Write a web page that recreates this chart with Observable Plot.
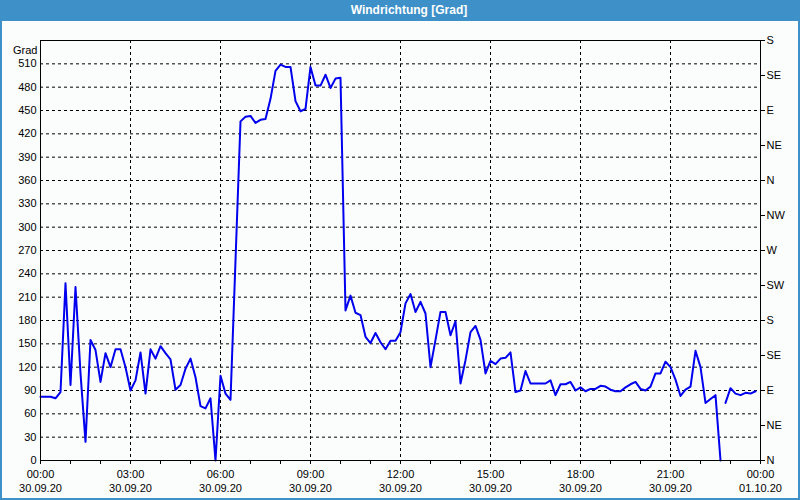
<!DOCTYPE html>
<html>
<head>
<meta charset="utf-8">
<script src="https://cdn.jsdelivr.net/npm/d3@7"></script>
<script src="https://cdn.jsdelivr.net/npm/@observablehq/plot@0.6"></script>
<style>
  html, body { margin: 0; padding: 0; background: #ffffff; }
  #outer { position: absolute; left: 0; top: 0; width: 800px; height: 500px; background: #3d90c8; }
  #title { position: absolute; left: 0; top: 0; width: 800px; height: 21px; line-height: 21px;
           color: #ffffff; font-family: "Liberation Sans", Arial, sans-serif; font-weight: bold;
           font-size: 12px; text-align: center; box-sizing: border-box; padding-left: 18px; }
  #chart { position: absolute; left: 2px; top: 21px; width: 796px; height: 477px; background: #fbfdfd; }
  #chart svg { display: block; }
</style>
</head>
<body>
<div id="outer">
  <div id="title">Windrichtung [Grad]</div>
  <div id="chart"></div>
</div>
<script>
// Wind direction in degrees, one reading every 10 minutes from 30.09.20 00:00
const stepMinutes = 10;
const values = [
  82, 82, 82, 80, 88, 228, 97, 223, 112, 24,
  155, 142, 101, 138, 120, 143, 143, 120, 90, 103,
  139, 86, 143, 131, 147, 138, 130, 91, 97, 118,
  131, 107, 70, 67, 80, 0, 109, 86, 78, 257,
  436, 442, 443, 434, 438, 439, 465, 501, 509, 506,
  506, 462, 449, 452, 506, 482, 482, 496, 479, 491,
  492, 193, 212, 190, 187, 159, 151, 164, 152, 143,
  154, 154, 165, 202, 214, 191, 204, 189, 120, 155,
  191, 191, 161, 179, 99, 129, 165, 173, 155, 112,
  128, 124, 131, 132, 139, 88, 90, 115, 99, 99,
  99, 99, 103, 84, 98, 98, 101, 90, 94, 89,
  92, 92, 96, 95, 91, 89, 89, 94, 98, 101,
  92, 90, 95, 112, 112, 127, 120, 104, 83, 91,
  95, 141, 120, 74, 79, 84, 0, 74, 93, 86,
  84, 87, 86, 89
];
// index after which the recorded line is interrupted
const breakAfter = [136];

const leftTicks = [0, 30, 60, 90, 120, 150, 180, 210, 240, 270, 300, 330, 360, 390, 420, 450, 480, 510];
const dirTicks = [0, 45, 90, 135, 180, 225, 270, 315, 360, 405, 450, 495, 540];
const dirLabels = ["N", "NE", "E", "SE", "S", "SW", "W", "NW", "N", "NE", "E", "SE", "S"];
const yLabel = "Grad";

const start = new Date(Date.UTC(2020, 8, 30, 0, 0));
const end = new Date(Date.UTC(2020, 9, 1, 0, 0));

const rows = [];
values.forEach((v, i) => {
  rows.push({ t: new Date(start.getTime() + i * stepMinutes * 60000), v });
  if (breakAfter.includes(i)) {
    rows.push({ t: new Date(start.getTime() + (i + 0.5) * stepMinutes * 60000), v: null });
  }
});

const hourTicks = d3.utcHour.range(start, new Date(end.getTime() + 1));
const majorTicks = d3.utcHour.every(3).range(start, new Date(end.getTime() + 1));
const innerMajor = majorTicks.slice(1, -1);

const chart = Plot.plot({
  width: 796,
  height: 477,
  marginLeft: 38,
  marginRight: 38,
  marginTop: 19,
  marginBottom: 38,
  style: { background: "transparent", fontFamily: "'Liberation Sans', Arial, sans-serif", fontSize: "11px", color: "black" },
  x: { type: "utc", domain: [start, end] },
  y: { domain: [0, 540] },
  marks: [
    Plot.gridY(leftTicks.slice(1), { stroke: "black", strokeOpacity: 1, strokeDasharray: "3,3" }),
    Plot.gridX(innerMajor, { stroke: "black", strokeOpacity: 1, strokeDasharray: "3,3" }),
    Plot.line(rows, { x: "t", y: "v", stroke: "#0000ee", strokeWidth: 2 }),
    Plot.frame({ stroke: "black" }),
    Plot.axisY(leftTicks, { anchor: "left", tickSize: 0, tickPadding: 4, label: null }),
    Plot.axisY(dirTicks, { anchor: "right", tickSize: 4, tickPadding: 2, label: null,
      tickFormat: d => dirLabels[Math.round(d / 45)] }),
    Plot.axisX(hourTicks, { anchor: "bottom", tickSize: 4, tickFormat: () => "", label: null }),
    Plot.axisX(majorTicks, { anchor: "bottom", tickSize: 0, tickPadding: 10, label: null,
      tickFormat: d3.utcFormat("%H:%M") }),
    Plot.axisX(majorTicks, { anchor: "bottom", tickSize: 0, tickPadding: 24, label: null,
      tickFormat: d3.utcFormat("%d.%m.%y") }),
    Plot.text([yLabel], { text: d => d, frameAnchor: "top-left", textAnchor: "end", dx: -3, dy: 6, fill: "black" })
  ]
});
document.getElementById("chart").appendChild(chart);
</script>
</body>
</html>
